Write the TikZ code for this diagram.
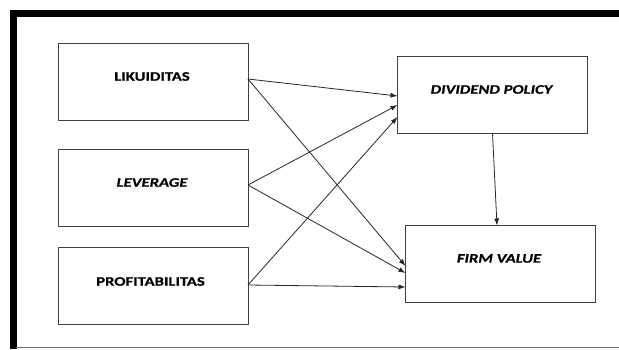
\documentclass[tikz,border=0pt]{standalone}
\usepackage{fontspec}
\setmainfont{Carlito}[FakeStretch=1.28,FakeBold=0.6]
\usetikzlibrary{arrows.meta}
\begin{document}
\begin{tikzpicture}[x=1pt,y=-1pt,
  box/.style={draw=black!75,line width=0.9pt,rectangle,minimum width=190pt,minimum height=77pt,inner sep=0pt,outer sep=0pt},
  lbl/.style={font=\fontsize{13}{15}\selectfont\bfseries,inner sep=0pt},
  conn/.style={draw=black!85,line width=0.8pt,-{Latex[length=7pt,width=5pt]}}]
\useasboundingbox (0,0) rectangle (619,349);
% frame
\draw[line width=7pt] (10,13.5) -- (619,13.5);
\draw[line width=6.5pt] (13.3,10) -- (13.3,349);
\draw[black!55,line width=1pt] (16,347) -- (619,347);
% boxes
\node[box] (lik) at (153,81.5) {};
\node[box] (lev) at (153,187.5) {};
\node[box] (prof) at (153,286) {};
\node[box] (div) at (492.5,94.5) {};
\node[box] (firm) at (500.5,264) {};
% labels
\node[lbl] (tlik) at (152,76.5) {LIKUIDITAS};
\node[lbl] (tlev) at (152,182.5) {\itshape LEVERAGE};
\node[lbl] (tprof) at (150.5,281.5) {PROFITABILITAS};
\node[lbl] (tdiv) at (491.5,89.5) {\itshape DIVIDEND POLICY};
\node[lbl] (tfirm) at (499,258.5) {\itshape FIRM VALUE};
% connectors
\draw[conn] ([yshift=2.5pt]lik.east) -- ([yshift=-1.5pt]div.west);
\draw[conn] ([yshift=2.5pt]lik.east) -- ([yshift=-2pt]firm.west);
\draw[conn] ([yshift=2.5pt]lev.east) -- ([yshift=-10.5pt]div.west);
\draw[conn] ([yshift=2.5pt]lev.east) -- ([yshift=-9pt]firm.west);
\draw[conn] ([yshift=1pt]prof.east) -- ([yshift=-22.5pt]div.west);
\draw[conn] ([yshift=1pt]prof.east) -- ([yshift=-23pt]firm.west);
\draw[conn] (div.south) -- ([xshift=-3.5pt]firm.north);
\end{tikzpicture}
\end{document}
